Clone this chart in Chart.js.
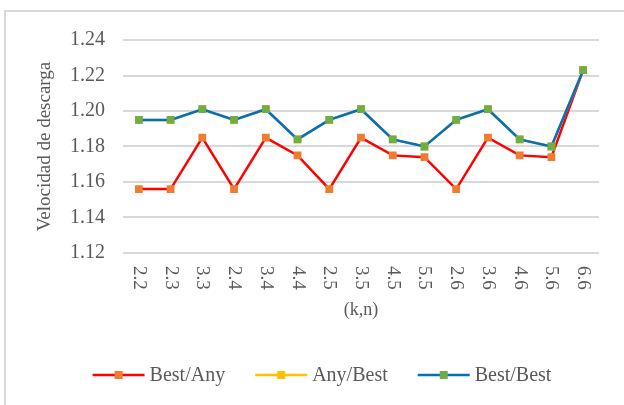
<!DOCTYPE html>
<html>
<head>
<meta charset="utf-8">
<script src="https://cdn.jsdelivr.net/npm/chart.js@4.4.1/dist/chart.umd.min.js"></script>
<style>
  html, body { margin: 0; padding: 0; background: #fff; overflow: hidden; }
  #wrap { position: relative; width: 624px; height: 405px; }
</style>
</head>
<body>
<div id="wrap"><canvas id="grafico"></canvas></div>
<script>
// Categorías (k,n) y series de velocidad de descarga
const categorias = ['2.2', '2.3', '3.3', '2.4', '3.4', '4.4', '2.5', '3.5', '4.5', '5.5', '2.6', '3.6', '4.6', '5.6', '6.6'];
const bestAny  = [1.156, 1.156, 1.185, 1.156, 1.185, 1.175, 1.156, 1.185, 1.175, 1.174, 1.156, 1.185, 1.175, 1.174, 1.223];
const anyBest  = [1.195, 1.195, 1.201, 1.195, 1.201, 1.184, 1.195, 1.201, 1.184, 1.180, 1.195, 1.201, 1.184, 1.180, 1.223];
const bestBest = [1.195, 1.195, 1.201, 1.195, 1.201, 1.184, 1.195, 1.201, 1.184, 1.180, 1.195, 1.201, 1.184, 1.180, 1.223];
const ejeY = { min: 1.12, max: 1.24, paso: 0.02 };

const FUENTE = "'Times New Roman', 'Liberation Serif', serif";
const GRIS_TEXTO = '#595959';
const GRIS_LINEA = '#d9d9d9';

function serie(label, data, linea, marcador, order) {
  return {
    label, data, order,
    borderColor: linea,
    backgroundColor: linea,
    borderWidth: 2.5,
    pointStyle: 'rect',
    pointRadius: 5.5,
    pointHoverRadius: 5.5,
    pointBackgroundColor: marcador,
    pointBorderColor: marcador,
    pointBorderWidth: 0,
    tension: 0
  };
}

// Marco gris del gráfico
const marco = {
  id: 'marco',
  beforeDraw(chart) {
    const ctx = chart.ctx;
    ctx.save();
    ctx.fillStyle = '#fff';
    ctx.fillRect(0, 0, chart.width, chart.height);
    ctx.strokeStyle = GRIS_LINEA;
    ctx.lineWidth = 2;
    ctx.beginPath();
    ctx.moveTo(5, chart.height);
    ctx.lineTo(5, 11);
    ctx.lineTo(chart.width, 11);
    ctx.stroke();
    ctx.restore();
  }
};

// Etiquetas del eje X giradas 90° en sentido horario
const etiquetasX = {
  id: 'etiquetasX',
  afterDraw(chart) {
    const ctx = chart.ctx;
    const x = chart.scales.x;
    ctx.save();
    ctx.fillStyle = GRIS_TEXTO;
    ctx.font = '19px ' + FUENTE;
    ctx.textAlign = 'left';
    ctx.textBaseline = 'middle';
    chart.data.labels.forEach((lab, i) => {
      ctx.save();
      ctx.translate(x.getPixelForTick(i), chart.chartArea.bottom + 13);
      ctx.rotate(Math.PI / 2);
      ctx.fillText(lab, 0, 0);
      ctx.restore();
    });
    ctx.restore();
  }
};

// Leyenda con línea y marcador cuadrado
const leyenda = {
  id: 'leyenda',
  afterDraw(chart) {
    const ctx = chart.ctx;
    const largo = 52, hueco = 5, separacion = 30, y = 375;
    ctx.save();
    ctx.font = '20px ' + FUENTE;
    ctx.textBaseline = 'middle';
    const items = chart.data.datasets.map(ds => ({ ds, w: ctx.measureText(ds.label).width }));
    const total = items.reduce((s, it) => s + largo + hueco + it.w, 0) + separacion * (items.length - 1);
    let x = chart.width / 2 + 10 - total / 2;
    items.forEach(({ ds, w }) => {
      ctx.strokeStyle = ds.borderColor;
      ctx.lineWidth = 2.5;
      ctx.beginPath();
      ctx.moveTo(x, y);
      ctx.lineTo(x + largo, y);
      ctx.stroke();
      ctx.fillStyle = ds.pointBackgroundColor;
      ctx.fillRect(x + largo / 2 - 4, y - 4, 8, 8);
      ctx.fillStyle = GRIS_TEXTO;
      ctx.fillText(ds.label, x + largo + hueco, y + 1);
      x += largo + hueco + w + separacion;
    });
    ctx.restore();
  }
};

new Chart(document.getElementById('grafico'), {
  type: 'line',
  data: {
    labels: categorias,
    datasets: [
      serie('Best/Any', bestAny, '#ff0000', '#ed7d31', 2),
      serie('Any/Best', anyBest, '#ffc000', '#ffc000', 1),
      serie('Best/Best', bestBest, '#0070c0', '#70ad47', 0)
    ]
  },
  options: {
    responsive: true,
    maintainAspectRatio: false,
    animation: false,
    layout: { padding: { top: 40, right: 25, bottom: 80, left: 30 } },
    plugins: {
      legend: { display: false },
      tooltip: { enabled: false }
    },
    scales: {
      x: {
        offset: true,
        grid: { display: false },
        border: { display: false },
        ticks: { display: false },
        title: {
          display: true,
          text: '(k,n)',
          color: GRIS_TEXTO,
          font: { family: FUENTE, size: 18 },
          padding: { top: 4, bottom: 4 }
        },
        afterFit: s => { s.height = 72; }
      },
      y: {
        min: ejeY.min,
        max: ejeY.max,
        border: { display: false },
        grid: { color: GRIS_LINEA, lineWidth: 2, drawTicks: false },
        ticks: {
          stepSize: ejeY.paso,
          padding: 18,
          color: GRIS_TEXTO,
          font: { family: FUENTE, size: 20 },
          callback: v => v.toFixed(2)
        },
        title: {
          display: true,
          text: 'Velocidad de descarga',
          color: GRIS_TEXTO,
          font: { family: FUENTE, size: 19 },
          padding: { top: 4, bottom: 4 }
        },
        afterFit: s => { s.width = 93; }
      }
    }
  },
  plugins: [marco, etiquetasX, leyenda]
});
</script>
</body>
</html>
